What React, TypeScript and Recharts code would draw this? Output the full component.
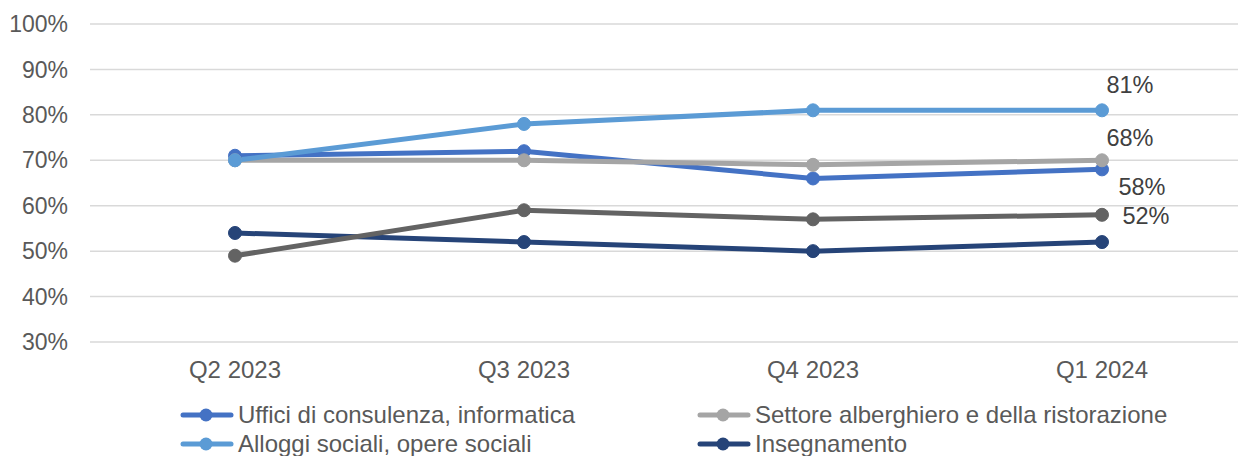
import React from "react";
import { LineChart, Line, XAxis, YAxis, CartesianGrid, LabelList } from "recharts";

const quarters = ["Q2 2023", "Q3 2023", "Q4 2023", "Q1 2024"];
const uffici = [71, 72, 66, 68];
const settore = [70, 70, 69, 70];
const alloggi = [70, 78, 81, 81];
const insegnamento = [54, 52, 50, 52];
const altro = [49, 59, 57, 58];
const yTicks = [30, 40, 50, 60, 70, 80, 90, 100];

const series = [
  { key: "uffici", name: "Uffici di consulenza, informatica", color: "#4472C4", values: uffici, label: { dx: 28, dy: -31 } },
  { key: "settore", name: "Settore alberghiero e della ristorazione", color: "#A5A5A5", values: settore, label: null },
  { key: "alloggi", name: "Alloggi sociali, opere sociali", color: "#5B9BD5", values: alloggi, label: { dx: 28, dy: -25 } },
  { key: "insegnamento", name: "Insegnamento", color: "#264478", values: insegnamento, label: { dx: 44, dy: -26 } },
  { key: "altro", name: "Altro", color: "#636363", values: altro, label: { dx: 40, dy: -28 } },
];

const legendItems = [
  { idx: 0, left: 180, top: 415 },
  { idx: 1, left: 697, top: 415 },
  { idx: 2, left: 180, top: 444 },
  { idx: 3, left: 697, top: 444 },
];

const data = quarters.map((q, i) => {
  const row: Record<string, string | number> = { quarter: q };
  series.forEach((s) => {
    row[s.key] = s.values[i];
  });
  return row;
});

const font = "'Liberation Sans', Arial, sans-serif";

const makeLabel = (off: { dx: number; dy: number }) => (props: any) => {
  const { x, y, value, index } = props;
  if (index !== quarters.length - 1) return null;
  return (
    <text x={x + off.dx} y={y + off.dy} textAnchor="middle" dominantBaseline="central" fill="#404040" fontSize={23.5} fontFamily={font}>
      {value}%
    </text>
  );
};

export default function App() {
  return (
    <div style={{ position: "absolute", left: 0, top: 0, width: 1238, height: 456, background: "#fff", overflow: "hidden" }}>
      <LineChart width={1238} height={456} data={data} margin={{ top: 24, right: 0, left: 0, bottom: 84 }}>
        <CartesianGrid horizontal vertical={false} stroke="#D9D9D9" strokeWidth={1.5} />
        <XAxis
          dataKey="quarter"
          scale="point"
          padding={{ left: 145, right: 136 }}
          axisLine={false}
          tickLine={false}
          tickSize={0}
          tickMargin={19}
          height={30}
          tick={{ fill: "#595959", fontSize: 24, fontFamily: font }}
        />
        <YAxis
          domain={[30, 100]}
          ticks={yTicks}
          width={90}
          axisLine={false}
          tickLine={false}
          tickSize={0}
          tickMargin={22}
          tickFormatter={(v) => `${v}%`}
          tick={{ fill: "#595959", fontSize: 23, fontFamily: font }}
        />
        {series.map((s) => (
          <Line
            key={s.key}
            dataKey={s.key}
            name={s.name}
            stroke={s.color}
            strokeWidth={5}
            dot={{ r: 6.5, fill: s.color, stroke: s.color, strokeWidth: 1 }}
            activeDot={false}
            isAnimationActive={false}
          >
            {s.label && <LabelList dataKey={s.key} content={makeLabel(s.label)} />}
          </Line>
        ))}
      </LineChart>
      {legendItems.map((it) => {
        const s = series[it.idx];
        return (
          <div
            key={s.key}
            style={{
              position: "absolute",
              left: it.left,
              top: it.top - 14,
              height: 28,
              display: "flex",
              alignItems: "center",
              fontFamily: font,
              fontSize: 24,
              color: "#595959",
              whiteSpace: "nowrap",
            }}
          >
            <svg width={56} height={28} style={{ display: "block" }}>
              <line x1={3} y1={14} x2={51} y2={14} stroke={s.color} strokeWidth={5} strokeLinecap="round" />
              <circle cx={26} cy={14} r={6.5} fill={s.color} />
            </svg>
            <span style={{ marginLeft: 2 }}>{s.name}</span>
          </div>
        );
      })}
    </div>
  );
}
